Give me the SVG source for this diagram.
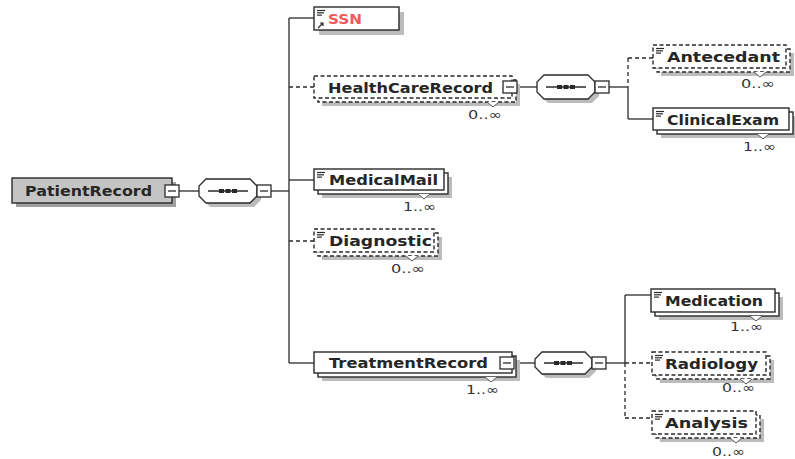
<svg xmlns="http://www.w3.org/2000/svg" width="795" height="459" viewBox="0 0 795 459">
<style>
.bg{fill:#ffffff}
.sh{fill:#bcbcbc}
.box{fill:#ffffff;stroke:#2a2a2a;stroke-width:1.4}
.dbox{fill:#ffffff;stroke:#2a2a2a;stroke-width:1.4;stroke-dasharray:4 2.5}
.root{fill:#c4c4c4;stroke:#2a2a2a;stroke-width:1.4}
.rsh{fill:#a0a0a0}
.name{font-family:"DejaVu Sans",sans-serif;font-weight:bold;font-size:14px;fill:#262626}
.ssn{fill:#f05a5a}
.occ{font-family:"DejaVu Sans",sans-serif;font-size:12.5px;fill:#333333}
.ln{stroke:#2a2a2a;stroke-width:1.3;fill:none}
.dl{stroke:#2a2a2a;stroke-width:1.3;fill:none;stroke-dasharray:4 3}
.mb{fill:#ffffff;stroke:#2a2a2a;stroke-width:1.3}
.oct{fill:#ffffff;stroke:#2a2a2a;stroke-width:1.3}
.dot{fill:#2a2a2a}
.ic{stroke:#2a2a2a;stroke-width:1.2}
.notch{fill:#ffffff;stroke:#555555;stroke-width:1}
</style>
<defs>
<g id="dots"><rect x="-9" y="-2" width="5" height="4" class="dot"/><rect x="-2.5" y="-2" width="5" height="4" class="dot"/><rect x="4" y="-2" width="5" height="4" class="dot"/></g>
<g id="icon"><line x1="0" y1="0.5" x2="8" y2="0.5" class="ic"/><line x1="0" y1="2.8" x2="7" y2="2.8" class="ic"/><line x1="0" y1="5.1" x2="5" y2="5.1" class="ic"/></g>
</defs>
<rect x="0" y="0" width="795" height="459" class="bg"/>

<g id="connectors">
<line x1="179" y1="191" x2="199" y2="191" class="ln"/>
<line x1="271" y1="191" x2="289" y2="191" class="ln"/>
<line x1="289" y1="18" x2="289" y2="363" class="ln"/>
<line x1="289" y1="18" x2="314" y2="18" class="ln"/>
<line x1="289" y1="87" x2="314" y2="87" class="dl"/>
<line x1="289" y1="180" x2="314" y2="180" class="ln"/>
<line x1="289" y1="241" x2="314" y2="241" class="dl"/>
<line x1="289" y1="363" x2="314" y2="363" class="ln"/>
<line x1="517" y1="87" x2="537" y2="87" class="ln"/>
<line x1="609" y1="87" x2="628" y2="87" class="ln"/>
<line x1="628" y1="58" x2="628" y2="87" class="dl"/>
<line x1="628" y1="87" x2="628" y2="119" class="ln"/>
<line x1="628" y1="58" x2="653" y2="58" class="dl"/>
<line x1="628" y1="119" x2="653" y2="119" class="ln"/>
<line x1="514" y1="363" x2="535" y2="363" class="ln"/>
<line x1="606" y1="363" x2="625" y2="363" class="ln"/>
<line x1="625" y1="295" x2="625" y2="363" class="ln"/>
<line x1="625" y1="363" x2="625" y2="418" class="dl"/>
<line x1="625" y1="295" x2="651" y2="295" class="ln"/>
<line x1="625" y1="363" x2="652" y2="363" class="dl"/>
<line x1="625" y1="418" x2="652" y2="418" class="dl"/>
</g>

<g id="PatientRecord">
<rect x="16" y="182" width="160" height="25" class="rsh"/>
<rect x="12" y="178" width="160" height="25" class="root"/>
<text x="25" y="196" class="name" textLength="127" lengthAdjust="spacingAndGlyphs">PatientRecord</text>
<rect x="165" y="185" width="14" height="12" class="mb"/>
<line x1="168" y1="191" x2="176" y2="191" class="ln"/>
</g>

<g id="seq-main">
<polygon points="210,183 254,183 261,190 261,200 254,207 210,207 203,200 203,190" class="sh"/>
<polygon points="206,179 250,179 257,186 257,196 250,203 206,203 199,196 199,186" class="oct"/>
<line x1="208" y1="191" x2="248" y2="191" class="ln"/>
<use href="#dots" x="228" y="191"/>
<rect x="257" y="185" width="14" height="12" class="mb"/>
<line x1="260" y1="191" x2="268" y2="191" class="ln"/>
</g>

<g id="SSN">
<rect x="319" y="12" width="85" height="23" class="sh"/>
<rect x="314" y="7" width="85" height="23" class="box"/>
<use href="#icon" x="317" y="10"/>
<path d="M318,28 L323,23 M320,23 L323,23 L323,26" class="ic" fill="none" stroke-width="1.8"/>
<text x="328" y="24" class="name ssn" textLength="34" lengthAdjust="spacingAndGlyphs">SSN</text>
</g>

<g id="HealthCareRecord">
<rect x="322" y="84" width="198" height="22" class="sh"/>
<rect x="318" y="80" width="198" height="22" class="dbox"/>
<rect x="314" y="76" width="198" height="22" class="dbox"/>
<path d="M487,102 L493,107 L499,102" class="notch"/>
<text x="328" y="93" class="name" textLength="165" lengthAdjust="spacingAndGlyphs">HealthCareRecord</text>
<rect x="503" y="81" width="14" height="12" class="mb"/>
<line x1="506" y1="87" x2="514" y2="87" class="ln"/>
<text x="468" y="119" class="occ" textLength="34" lengthAdjust="spacingAndGlyphs">0..∞</text>
</g>

<g id="seq-health">
<polygon points="548,79 592,79 599,86 599,96 592,103 548,103 541,96 541,86" class="sh"/>
<polygon points="544,75 588,75 595,82 595,92 588,99 544,99 537,92 537,82" class="oct"/>
<line x1="546" y1="87" x2="586" y2="87" class="ln"/>
<use href="#dots" x="566" y="87"/>
<rect x="595" y="81" width="14" height="12" class="mb"/>
<line x1="598" y1="87" x2="606" y2="87" class="ln"/>
</g>

<g id="Antecedant">
<rect x="661" y="53" width="133" height="23" class="sh"/>
<rect x="657" y="49" width="133" height="23" class="dbox"/>
<rect x="653" y="45" width="133" height="23" class="dbox"/>
<path d="M754,72 L760,77 L766,72" class="notch"/>
<use href="#icon" x="656" y="48"/>
<text x="667" y="62" class="name" textLength="113" lengthAdjust="spacingAndGlyphs">Antecedant</text>
<text x="741" y="88" class="occ" textLength="34" lengthAdjust="spacingAndGlyphs">0..∞</text>
</g>

<g id="ClinicalExam">
<rect x="661" y="116" width="136" height="22" class="sh"/>
<rect x="657" y="112" width="136" height="22" class="box"/>
<rect x="653" y="108" width="136" height="22" class="box"/>
<path d="M757,134 L763,139 L769,134" class="notch"/>
<use href="#icon" x="656" y="111"/>
<text x="667" y="125" class="name" textLength="112" lengthAdjust="spacingAndGlyphs">ClinicalExam</text>
<text x="743" y="151" class="occ" textLength="33" lengthAdjust="spacingAndGlyphs">1..∞</text>
</g>

<g id="MedicalMail">
<rect x="322" y="177" width="130" height="21" class="sh"/>
<rect x="318" y="173" width="130" height="21" class="box"/>
<rect x="314" y="169" width="130" height="21" class="box"/>
<path d="M418,194 L424,199 L430,194" class="notch"/>
<use href="#icon" x="317" y="172"/>
<text x="329" y="185" class="name" textLength="109" lengthAdjust="spacingAndGlyphs">MedicalMail</text>
<text x="403" y="211" class="occ" textLength="33" lengthAdjust="spacingAndGlyphs">1..∞</text>
</g>

<g id="Diagnostic">
<rect x="322" y="237" width="120" height="23" class="sh"/>
<rect x="318" y="233" width="120" height="23" class="dbox"/>
<rect x="314" y="229" width="120" height="23" class="dbox"/>
<path d="M406,256 L412,261 L418,256" class="notch"/>
<use href="#icon" x="317" y="232"/>
<text x="329" y="246" class="name" textLength="103" lengthAdjust="spacingAndGlyphs">Diagnostic</text>
<text x="391" y="273" class="occ" textLength="34" lengthAdjust="spacingAndGlyphs">0..∞</text>
</g>

<g id="TreatmentRecord">
<rect x="322" y="360" width="198" height="21" class="sh"/>
<rect x="318" y="356" width="198" height="21" class="box"/>
<rect x="314" y="352" width="198" height="21" class="box"/>
<path d="M485,377 L491,382 L497,377" class="notch"/>
<text x="329" y="368" class="name" textLength="159" lengthAdjust="spacingAndGlyphs">TreatmentRecord</text>
<rect x="500" y="357" width="14" height="12" class="mb"/>
<line x1="503" y1="363" x2="511" y2="363" class="ln"/>
<text x="466" y="394" class="occ" textLength="33" lengthAdjust="spacingAndGlyphs">1..∞</text>
</g>

<g id="seq-treatment">
<polygon points="546,356 589,356 596,363 596,371 589,378 546,378 539,371 539,363" class="sh"/>
<polygon points="542,352 585,352 592,359 592,367 585,374 542,374 535,367 535,359" class="oct"/>
<line x1="544" y1="363" x2="583" y2="363" class="ln"/>
<use href="#dots" x="563" y="363"/>
<rect x="592" y="357" width="14" height="12" class="mb"/>
<line x1="595" y1="363" x2="603" y2="363" class="ln"/>
</g>

<g id="Medication">
<rect x="659" y="297" width="124" height="23" class="sh"/>
<rect x="655" y="293" width="124" height="23" class="box"/>
<rect x="651" y="289" width="124" height="23" class="box"/>
<path d="M750,316 L756,321 L762,316" class="notch"/>
<use href="#icon" x="654" y="292"/>
<text x="665" y="306" class="name" textLength="98" lengthAdjust="spacingAndGlyphs">Medication</text>
<text x="730" y="331" class="occ" textLength="33" lengthAdjust="spacingAndGlyphs">1..∞</text>
</g>

<g id="Radiology">
<rect x="660" y="360" width="114" height="23" class="sh"/>
<rect x="656" y="356" width="114" height="23" class="dbox"/>
<rect x="652" y="352" width="114" height="23" class="dbox"/>
<path d="M740,379 L746,384 L752,379" class="notch"/>
<use href="#icon" x="655" y="355"/>
<text x="665" y="369" class="name" textLength="93" lengthAdjust="spacingAndGlyphs">Radiology</text>
<text x="722" y="392" class="occ" textLength="33" lengthAdjust="spacingAndGlyphs">0..∞</text>
</g>

<g id="Analysis">
<rect x="660" y="419" width="104" height="23" class="sh"/>
<rect x="656" y="415" width="104" height="23" class="dbox"/>
<rect x="652" y="411" width="104" height="23" class="dbox"/>
<path d="M730,438 L736,443 L742,438" class="notch"/>
<use href="#icon" x="655" y="414"/>
<text x="665" y="428" class="name" textLength="83" lengthAdjust="spacingAndGlyphs">Analysis</text>
<text x="712" y="456" class="occ" textLength="33" lengthAdjust="spacingAndGlyphs">0..∞</text>
</g>
</svg>
